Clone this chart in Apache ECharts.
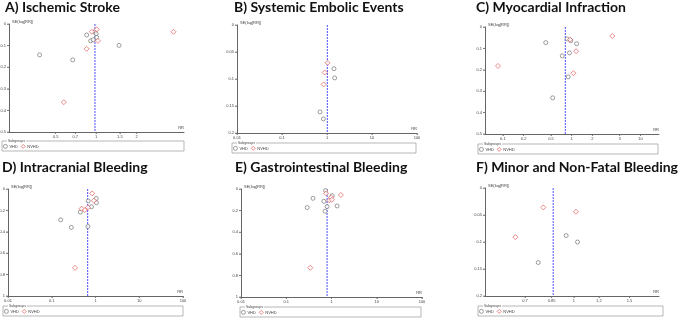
<!DOCTYPE html>
<html>
<head>
<meta charset="utf-8">
<script src="https://cdn.jsdelivr.net/npm/echarts@6/dist/echarts.min.js"></script>
<style>
  html, body { margin: 0; padding: 0; background: #fff; }
  #main { width: 685px; height: 318px; }
</style>
</head>
<body>
<div id="main"></div>
<script>
// funnel plots: RR on log scale vs SE(log[RR])

// A) Ischemic Stroke
const ischVhdRR = [0.38, 0.67, 0.85, 0.91, 0.95, 0.98, 1.0, 1.01, 1.48];
const ischVhdSE = [0.143, 0.166, 0.051, 0.078, 0.073, 0.037, 0.045, 0.062, 0.099];
const ischNvhdRR = [0.575, 0.85, 0.93, 1.01, 1.03, 3.76];
const ischNvhdSE = [0.362, 0.115, 0.036, 0.025, 0.078, 0.036];

// B) Systemic Embolic Events
const seeVhdRR = [1.43, 1.48, 0.70, 0.83];
const seeVhdSE = [0.081, 0.098, 0.161, 0.174];
const seeNvhdRR = [1.03, 0.89, 0.84];
const seeNvhdSE = [0.070, 0.088, 0.110];

// C) Myocardial Infraction
const miVhdRR = [0.42, 0.86, 0.97, 1.18, 0.93, 0.73, 0.89, 0.53];
const miVhdSE = [0.073, 0.056, 0.064, 0.078, 0.121, 0.135, 0.233, 0.331];
const miNvhdRR = [0.085, 0.95, 1.16, 1.06, 3.9];
const miNvhdSE = [0.182, 0.059, 0.113, 0.216, 0.042];

// D) Intracranial Bleeding
const icbVhdRR = [0.16, 0.28, 0.45, 0.67, 0.68, 0.81, 1.04, 1.05];
const icbVhdSE = [0.288, 0.359, 0.216, 0.35, 0.112, 0.166, 0.088, 0.128];
const icbNvhdRR = [0.84, 0.92, 0.48, 0.57, 0.67, 0.34];
const icbNvhdSE = [0.041, 0.109, 0.184, 0.197, 0.172, 0.737];

// E) Gastrointestinal Bleeding
const gibVhdRR = [0.29, 0.39, 0.68, 0.74, 0.72, 0.80, 1.03, 1.33];
const gibVhdSE = [0.172, 0.086, 0.114, 0.015, 0.206, 0.163, 0.062, 0.157];
const gibNvhdRR = [0.76, 0.90, 0.98, 1.02, 1.61, 0.34];
const gibNvhdSE = [0.040, 0.105, 0.077, 0.100, 0.055, 0.729];

// F) Minor and Non-Fatal Bleeding
const minVhdRR = [0.945, 1.027, 0.771];
const minVhdSE = [0.088, 0.100, 0.138];
const minNvhdRR = [0.80, 1.015, 0.653];
const minNvhdSE = [0.036, 0.044, 0.091];

const titles = ['A) Ischemic Stroke', 'B) Systemic Embolic Events', 'C) Myocardial Infraction',
  'D) Intracranial Bleeding', 'E) Gastrointestinal Bleeding', 'F) Minor and Non-Fatal Bleeding'];
const pooledRR = [0.98, 1.02, 0.81, 0.66, 0.80, 0.86];
const rrTicks = [
  [0.5, 0.7, 1, 1.5, 2],
  [0.01, 0.1, 1, 10, 100],
  [0.1, 0.2, 0.5, 1, 2, 5, 10],
  [0.01, 0.1, 1, 10, 100],
  [0.01, 0.1, 1, 10, 100],
  [0.7, 0.85, 1, 1.2, 1.5]
];
const rrMin = [0.225, 0.01, 0.055, 0.01, 0.01, 0.523];
const rrMax = [4.5, 100, 18.6, 100, 100, 1.86];
const seMax = [0.5, 0.2, 0.5, 1, 1, 0.2];
const seStep = [0.1, 0.05, 0.1, 0.2, 0.2, 0.05];

const vhdRR = [ischVhdRR, seeVhdRR, miVhdRR, icbVhdRR, gibVhdRR, minVhdRR];
const vhdSE = [ischVhdSE, seeVhdSE, miVhdSE, icbVhdSE, gibVhdSE, minVhdSE];
const nvhdRR = [ischNvhdRR, seeNvhdRR, miNvhdRR, icbNvhdRR, gibNvhdRR, minNvhdRR];
const nvhdSE = [ischNvhdSE, seeNvhdSE, miNvhdSE, icbNvhdSE, gibNvhdSE, minNvhdSE];

// pixel layout of each panel: title [x,y], grid [l,t,w,h], legend box [x,y,w,h]
const layout = [
  { title: [5, 0], grid: [9, 24, 175, 108], box: [2, 141, 182, 10] },
  { title: [234, 0], grid: [237, 25, 180, 108], box: [232, 143, 184, 10] },
  { title: [476, 0], grid: [485, 27, 174, 107], box: [478, 144, 180, 10] },
  { title: [2, 160], grid: [8, 189, 175, 107], box: [3, 306, 180, 10] },
  { title: [235, 160], grid: [241, 189, 181, 108], box: [240, 307, 181, 10] },
  { title: [476, 160], grid: [485, 188, 174, 108], box: [478, 306, 185, 10] }
];

const AXIS = '#666';
const GRAY = '#666';
const RED = '#e04848';
const BLUE = '#6b6bff';
const tiny = { fontSize: 4, color: '#444', fontFamily: 'Liberation Sans' };

const lg = v => Math.log10(v);
const fmtRR = v => String(parseFloat(Math.pow(10, v).toPrecision(3)));
const toPoints = (rr, se) => rr.map((r, k) => [lg(r), se[k]]);

const option = {
  animation: false,
  backgroundColor: '#fff',
  title: [], grid: [], xAxis: [], yAxis: [], legend: [], series: []
};
const boxes = [];

layout.forEach((p, i) => {
  option.title.push({
    text: titles[i], left: p.title[0], top: p.title[1], padding: 0,
    textStyle: { fontFamily: 'Lato', fontWeight: 'bold', fontSize: 14, color: '#111' }
  });
  option.grid.push({
    left: p.grid[0], top: p.grid[1], width: p.grid[2], height: p.grid[3],
    containLabel: false, outerBoundsMode: 'none'
  });
  const tv = rrTicks[i].map(lg);
  option.xAxis.push({
    gridIndex: i, type: 'value', position: 'bottom', min: lg(rrMin[i]), max: lg(rrMax[i]),
    name: 'RR', nameLocation: 'end', nameGap: 0,
    nameTextStyle: Object.assign({ align: 'right', verticalAlign: 'bottom', padding: [0, 0, 2, 0] }, tiny),
    axisLine: { show: true, onZero: false, lineStyle: { color: AXIS, width: 1 } },
    axisTick: { show: true, length: 2, customValues: tv, lineStyle: { color: AXIS, width: 0.6 } },
    axisLabel: Object.assign({ customValues: tv, formatter: fmtRR, margin: 3 }, tiny),
    splitLine: { show: false }
  });
  option.yAxis.push({
    gridIndex: i, type: 'value', position: 'left', inverse: true, min: 0, max: seMax[i], interval: seStep[i],
    name: 'SE(log[RR])', nameLocation: 'start', nameGap: 0,
    nameTextStyle: Object.assign({ align: 'left', verticalAlign: 'bottom', padding: [0, 0, 0, 3] }, tiny),
    axisLine: { show: true, onZero: false, lineStyle: { color: AXIS, width: 1 } },
    axisTick: { show: true, length: 2, lineStyle: { color: AXIS, width: 0.6 } },
    axisLabel: Object.assign({ margin: 3 }, tiny),
    splitLine: { show: false }
  });
  // pooled estimate
  option.series.push({
    type: 'line', name: 'pooled', xAxisIndex: i, yAxisIndex: i, silent: true, z: 2,
    symbol: 'none', lineStyle: { color: BLUE, type: [2, 1], width: 1.2 },
    data: [[lg(pooledRR[i]), 0], [lg(pooledRR[i]), seMax[i]]]
  });
  option.series.push({
    type: 'scatter', name: 'VHD', xAxisIndex: i, yAxisIndex: i,
    symbol: 'circle', symbolSize: 4, silent: true, z: 3,
    itemStyle: { color: '#fff', borderColor: GRAY, borderWidth: 0.8 },
    data: toPoints(vhdRR[i], vhdSE[i])
  });
  option.series.push({
    type: 'scatter', name: 'NVHD', xAxisIndex: i, yAxisIndex: i,
    symbol: 'diamond', symbolSize: 5, silent: true, z: 4,
    itemStyle: { color: '#fff', borderColor: RED, borderWidth: 0.8 },
    data: toPoints(nvhdRR[i], nvhdSE[i])
  });
  const b = p.box;
  boxes.push({
    type: 'rect', shape: { x: b[0], y: b[1], width: b[2], height: b[3] },
    style: { fill: 'none', stroke: '#888', lineWidth: 0.6 }, silent: true
  });
  boxes.push({
    type: 'text', x: b[0] + 5, y: b[1],
    style: { text: 'Subgroups', fontSize: 3.5, fill: '#444', fontFamily: 'Liberation Sans',
      verticalAlign: 'middle', backgroundColor: '#fff', padding: [0, 1] }, silent: true
  });
  option.legend.push({
    data: [
      { name: 'VHD', icon: 'circle', itemStyle: { color: '#fff', borderColor: GRAY, borderWidth: 0.8 } },
      { name: 'NVHD', icon: 'diamond', itemStyle: { color: '#fff', borderColor: RED, borderWidth: 0.8 } }
    ],
    left: b[0] + 1, top: b[1] + 3, padding: 0,
    itemWidth: 4, itemHeight: 4, itemGap: 3, selectedMode: false,
    textStyle: { fontSize: 4, color: '#444', fontFamily: 'Liberation Sans', padding: [0, 0, 0, -3] }
  });
});

const chart = echarts.init(document.getElementById('main'));
chart.setOption(option);

// axis frame and ticks, placed through each grid's own scales
const frames = [];
layout.forEach((p, i) => {
  const px = v => chart.convertToPixel({ gridIndex: i }, v);
  const x0 = lg(rrMin[i]);
  const x1 = lg(rrMax[i]);
  const a = px([x0, 0]);
  const c = px([x0, seMax[i]]);
  const d = px([x1, seMax[i]]);
  frames.push({
    type: 'polyline', z: 100, silent: true,
    shape: { points: [[Math.round(a[0]) + 0.5, a[1]], [Math.round(c[0]) + 0.5, Math.round(c[1]) + 0.5], [d[0], Math.round(d[1]) + 0.5]] },
    style: { stroke: AXIS, lineWidth: 1, fill: null }
  });
  for (let k = 0; k * seStep[i] <= seMax[i] + 1e-9; k++) {
    const t = px([x0, k * seStep[i]]);
    frames.push({
      type: 'line', z: 100, silent: true,
      shape: { x1: t[0] - 2, y1: t[1], x2: t[0], y2: t[1] },
      style: { stroke: AXIS, lineWidth: 0.6 }
    });
  }
  rrTicks[i].forEach(r => {
    const t = px([lg(r), seMax[i]]);
    frames.push({
      type: 'line', z: 100, silent: true,
      shape: { x1: t[0], y1: t[1], x2: t[0], y2: t[1] + 2 },
      style: { stroke: AXIS, lineWidth: 0.6 }
    });
  });
});
chart.setOption({ graphic: boxes.concat(frames) });
</script>
</body>
</html>
